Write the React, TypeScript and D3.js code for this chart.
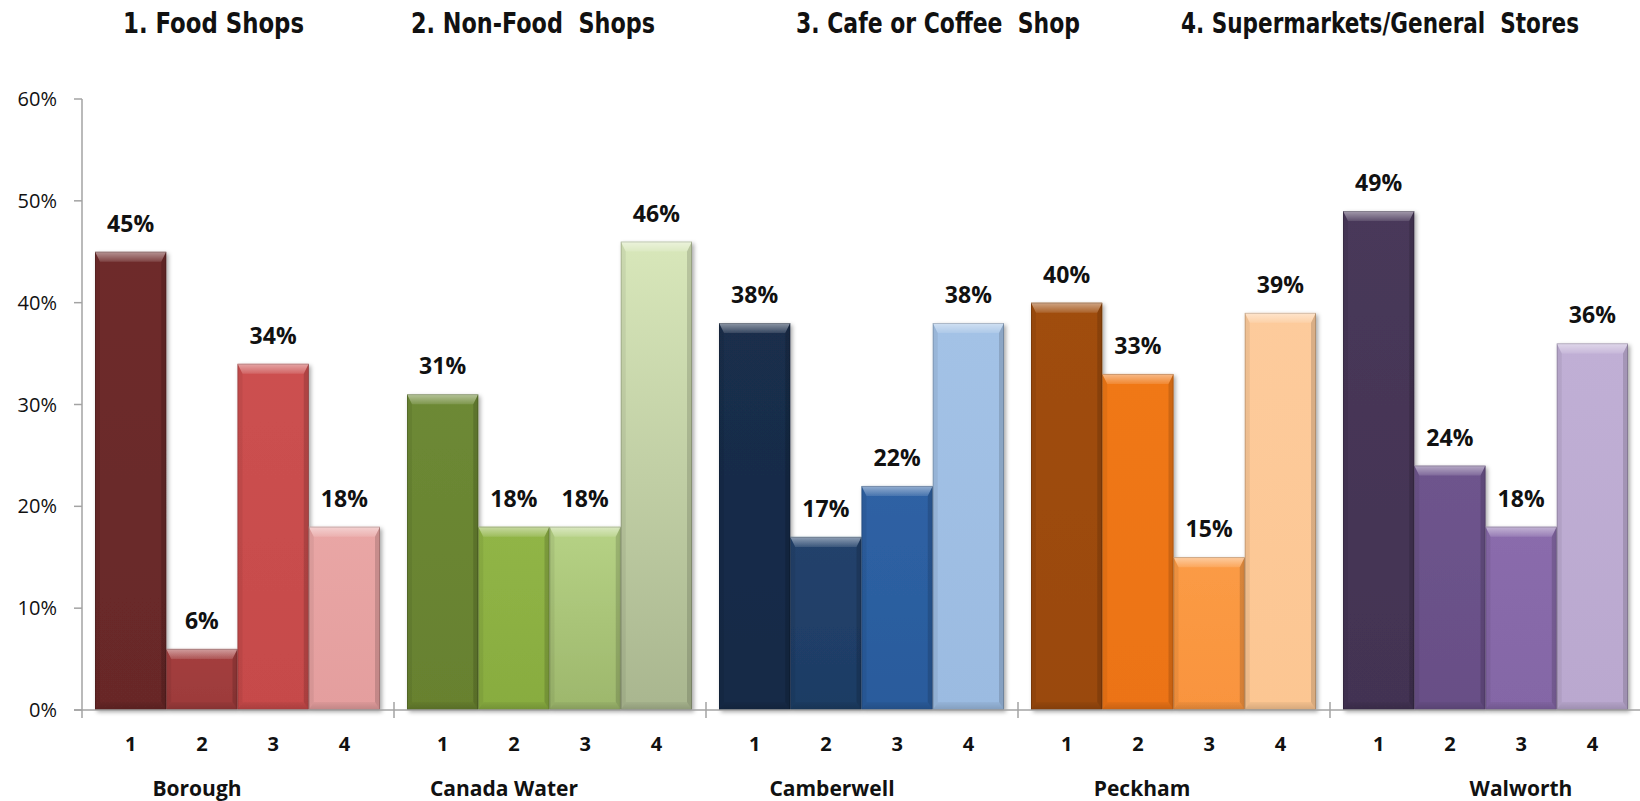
import React from "react";
import * as d3 from "d3";

// ---------- data ----------
const districts = ["Borough", "Canada Water", "Camberwell", "Peckham", "Walworth"];
const shopTypes = ["1", "2", "3", "4"];
const boroughValues = [45, 6, 34, 18];
const canadaWaterValues = [31, 18, 18, 46];
const camberwellValues = [38, 17, 22, 38];
const peckhamValues = [40, 33, 15, 39];
const walworthValues = [49, 24, 18, 36];
const seriesValues = [boroughValues, canadaWaterValues, camberwellValues, peckhamValues, walworthValues];
const titles = ["1. Food Shops", "2. Non-Food  Shops", "3. Cafe or Coffee  Shop", "4. Supermarkets/General  Stores"];
const yTicks = [0, 10, 20, 30, 40, 50, 60];

// ---------- styles / layout ----------
const barTop = [
  ["#6E2C2C", "#A43F3F", "#CC5050", "#E9A6A5"],
  ["#6D8935", "#91B546", "#B6D285", "#D8E7BA"],
  ["#1A2E4C", "#22426C", "#2E62A4", "#A3C2E6"],
  ["#A04D10", "#F07816", "#FB9B45", "#FDCB9C"],
  ["#48385A", "#6E548D", "#8A6CAC", "#C0AFD5"],
];
const barBottom = [
  ["#682828", "#9C3A3A", "#C64A4A", "#E49E9E"],
  ["#67812F", "#88AC40", "#9DB76C", "#A9B68F"],
  ["#162946", "#1E3C64", "#2A5B9C", "#9BBBE1"],
  ["#9A490E", "#EC7312", "#F9943E", "#FCC692"],
  ["#433352", "#684F86", "#8466A6", "#BAA8CF"],
];
const titleX = [123, 411, 796, 1181];
const titleW = [181, 244, 284, 398];
const districtNudge = [-41, -46, -30, -32, 35];

const W = 1640;
const H = 801;
const AXIS_X = 82;
const GROUP_W = 312;

export default function App() {
  const x0 = d3.scaleBand<string>().domain(districts).range([AXIS_X, AXIS_X + GROUP_W * districts.length]).padding(0);
  const x1 = d3.scaleBand<string>().domain(shopTypes).range([13, 298]).padding(0);
  const y = d3.scaleLinear().domain([0, 60]).range([710, 99]);
  const y0 = y(0);
  const bw = x1.bandwidth();

  const bevelTop = 10;
  const bevelSide = 5;
  const bevelBottom = 8;

  return (
    <svg
      width={W}
      height={H}
      style={{ position: "absolute", left: 0, top: 0, background: "#fff" }}
      xmlns="http://www.w3.org/2000/svg"
    >
      <defs>
        <filter id="shadow" x="-20%" y="-10%" width="150%" height="130%">
          <feDropShadow dx="2" dy="2" stdDeviation="2" floodColor="#000" floodOpacity="0.35" />
        </filter>
        <linearGradient id="topBevel" x1="0" y1="0" x2="0" y2="1">
          <stop offset="0" stopColor="#fff" stopOpacity="0.5" />
          <stop offset="1" stopColor="#fff" stopOpacity="0.12" />
        </linearGradient>
        <linearGradient id="bottomBevel" x1="0" y1="0" x2="0" y2="1">
          <stop offset="0" stopColor="#000" stopOpacity="0.04" />
          <stop offset="1" stopColor="#000" stopOpacity="0.16" />
        </linearGradient>
        {seriesValues.map((vals, gi) =>
          vals.map((_, bi) => (
            <linearGradient key={`g${gi}-${bi}`} id={`bar-${gi}-${bi}`} x1="0" y1="0" x2="0" y2="1">
              <stop offset="0" stopColor={barTop[gi][bi]} />
              <stop offset="1" stopColor={barBottom[gi][bi]} />
            </linearGradient>
          ))
        )}
      </defs>

      {/* titles */}
      <g fontFamily="'Liberation Sans Narrow', 'Arial Narrow', 'DejaVu Sans Condensed', sans-serif" fontWeight="bold" fontSize={29} fill="#111">
        {titles.map((t, i) => (
          <text key={t} x={titleX[i]} y={33} textLength={titleW[i]} lengthAdjust="spacingAndGlyphs" style={{ whiteSpace: "pre" }}>
            {t}
          </text>
        ))}
      </g>

      {/* y axis */}
      <g stroke="#A3A3A3" strokeWidth={1.5}>
        <line x1={AXIS_X} x2={AXIS_X} y1={y(60)} y2={y0 + 8} />
        {yTicks.map((t) => (
          <line key={t} x1={AXIS_X - 8} x2={AXIS_X} y1={y(t)} y2={y(t)} />
        ))}
      </g>
      <g fontFamily="'Open Sans', sans-serif" fontSize={20} fill="#111" textAnchor="end">
        {yTicks.map((t) => (
          <text key={t} x={57} y={y(t) + 7}>
            {`${t}%`}
          </text>
        ))}
      </g>

      {/* bars */}
      {districts.map((d, gi) => {
        const gx = x0(d)!;
        return (
          <g key={d}>
            {shopTypes.map((s, bi) => {
              const v = seriesValues[gi][bi];
              const bx = gx + x1(s)!;
              const by = y(v);
              const h = y0 - by;
              const bt = Math.min(bevelTop, h / 3);
              const bb = Math.min(bevelBottom, h / 3);
              const bs = bevelSide;
              const r = bx + bw;
              return (
                <g key={s}>
                  <g filter="url(#shadow)">
                    <rect x={bx} y={by} width={bw} height={h} fill={`url(#bar-${gi}-${bi})`} />
                  </g>
                  <polygon points={`${bx},${by} ${r},${by} ${r - bs},${by + bt} ${bx + bs},${by + bt}`} fill="url(#topBevel)" />
                  <polygon points={`${bx},${by} ${bx + bs},${by + bt} ${bx + bs},${y0 - bb} ${bx},${y0}`} fill="rgba(0,0,0,0.06)" />
                  <polygon points={`${r},${by} ${r - bs},${by + bt} ${r - bs},${y0 - bb} ${r},${y0}`} fill="rgba(0,0,0,0.14)" />
                  <polygon points={`${bx},${y0} ${bx + bs},${y0 - bb} ${r - bs},${y0 - bb} ${r},${y0}`} fill="url(#bottomBevel)" />
                  <rect x={bx + 0.4} y={by + 0.4} width={bw - 0.8} height={h - 0.8} fill="none" stroke="rgba(0,0,0,0.22)" strokeWidth={0.8} />
                  <text
                    x={bx + bw / 2}
                    y={by - 20}
                    textAnchor="middle"
                    fontFamily="'Open Sans', sans-serif"
                    fontWeight="bold"
                    fontSize={23}
                    fill="#111"
                  >
                    {`${v}%`}
                  </text>
                </g>
              );
            })}
          </g>
        );
      })}

      {/* x axis */}
      <g stroke="#A3A3A3" strokeWidth={1.5}>
        <line x1={AXIS_X - 8} x2={W} y1={y0} y2={y0} />
        {districts.slice(1).map((d) => (
          <line key={d} x1={x0(d)!} x2={x0(d)!} y1={y0 - 8} y2={y0 + 8} />
        ))}
      </g>

      {/* category labels */}
      <g fontFamily="'Open Sans', sans-serif" fontWeight="bold" fill="#111" textAnchor="middle">
        {districts.map((d, gi) => (
          <g key={d}>
            {shopTypes.map((s) => (
              <text key={s} x={x0(d)! + x1(s)! + bw / 2} y={751} fontSize={20}>
                {s}
              </text>
            ))}
            <text x={x0(d)! + GROUP_W / 2 + districtNudge[gi]} y={796} fontSize={21}>
              {d}
            </text>
          </g>
        ))}
      </g>
    </svg>
  );
}
